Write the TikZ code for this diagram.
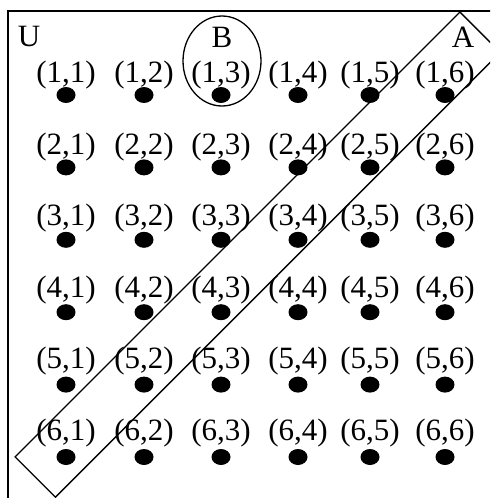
\documentclass[tikz,border=0pt]{standalone}
\usepackage{fontspec}
\setmainfont{Liberation Serif}
\usetikzlibrary{shapes.geometric}
\tikzset{
  pt/.style={ellipse, fill=black, minimum width=19pt, minimum height=16pt, inner sep=0pt},
  lbl/.style={font=\fontsize{31}{31}\selectfont, inner sep=0pt},
  setlbl/.style={font=\fontsize{31}{31}\selectfont, inner sep=0pt},
  frame/.style={draw, line width=1.6pt},
  setA/.style={draw, line width=1.3pt, rotate=45, minimum width=629pt,
               minimum height=57pt, inner sep=0pt},
  setB/.style={draw, ellipse, line width=1.3pt, minimum width=78pt,
               minimum height=90pt, inner sep=0pt},
}
\begin{document}
\begin{tikzpicture}[x=1pt,y=-1pt]
  \useasboundingbox (0,0) rectangle (490,498);
  \clip (0,0) rectangle (490,498);
  % universe
  \draw[frame] (8,11) rectangle (520,530);
  \node[setlbl] (U) at (29,37) {U};
  % points and their labels
  \foreach \r in {1,...,6}{
    \pgfmathsetmacro\y{95+(\r-1)*72.4}
    \pgfmathsetmacro\ly{75+(\r-1)*71.6}
    \foreach \c/\x in {1/66,2/144,3/221,4/298,5/370,6/445}{
      \node[pt] (p\r\c) at (\x,\y) {};
      \node[lbl] (l\r\c) at (\x,\ly) {(\r,\c)};
    }
  }
  % sets
  \node[setB] (B) at (222,61) {};
  \node[setlbl] (Blbl) at (222,37) {B};
  \node[setA] (A) at (257.7,254.6) {};
  \node[setlbl] (Albl) at (463,37) {A};
\end{tikzpicture}
\end{document}
